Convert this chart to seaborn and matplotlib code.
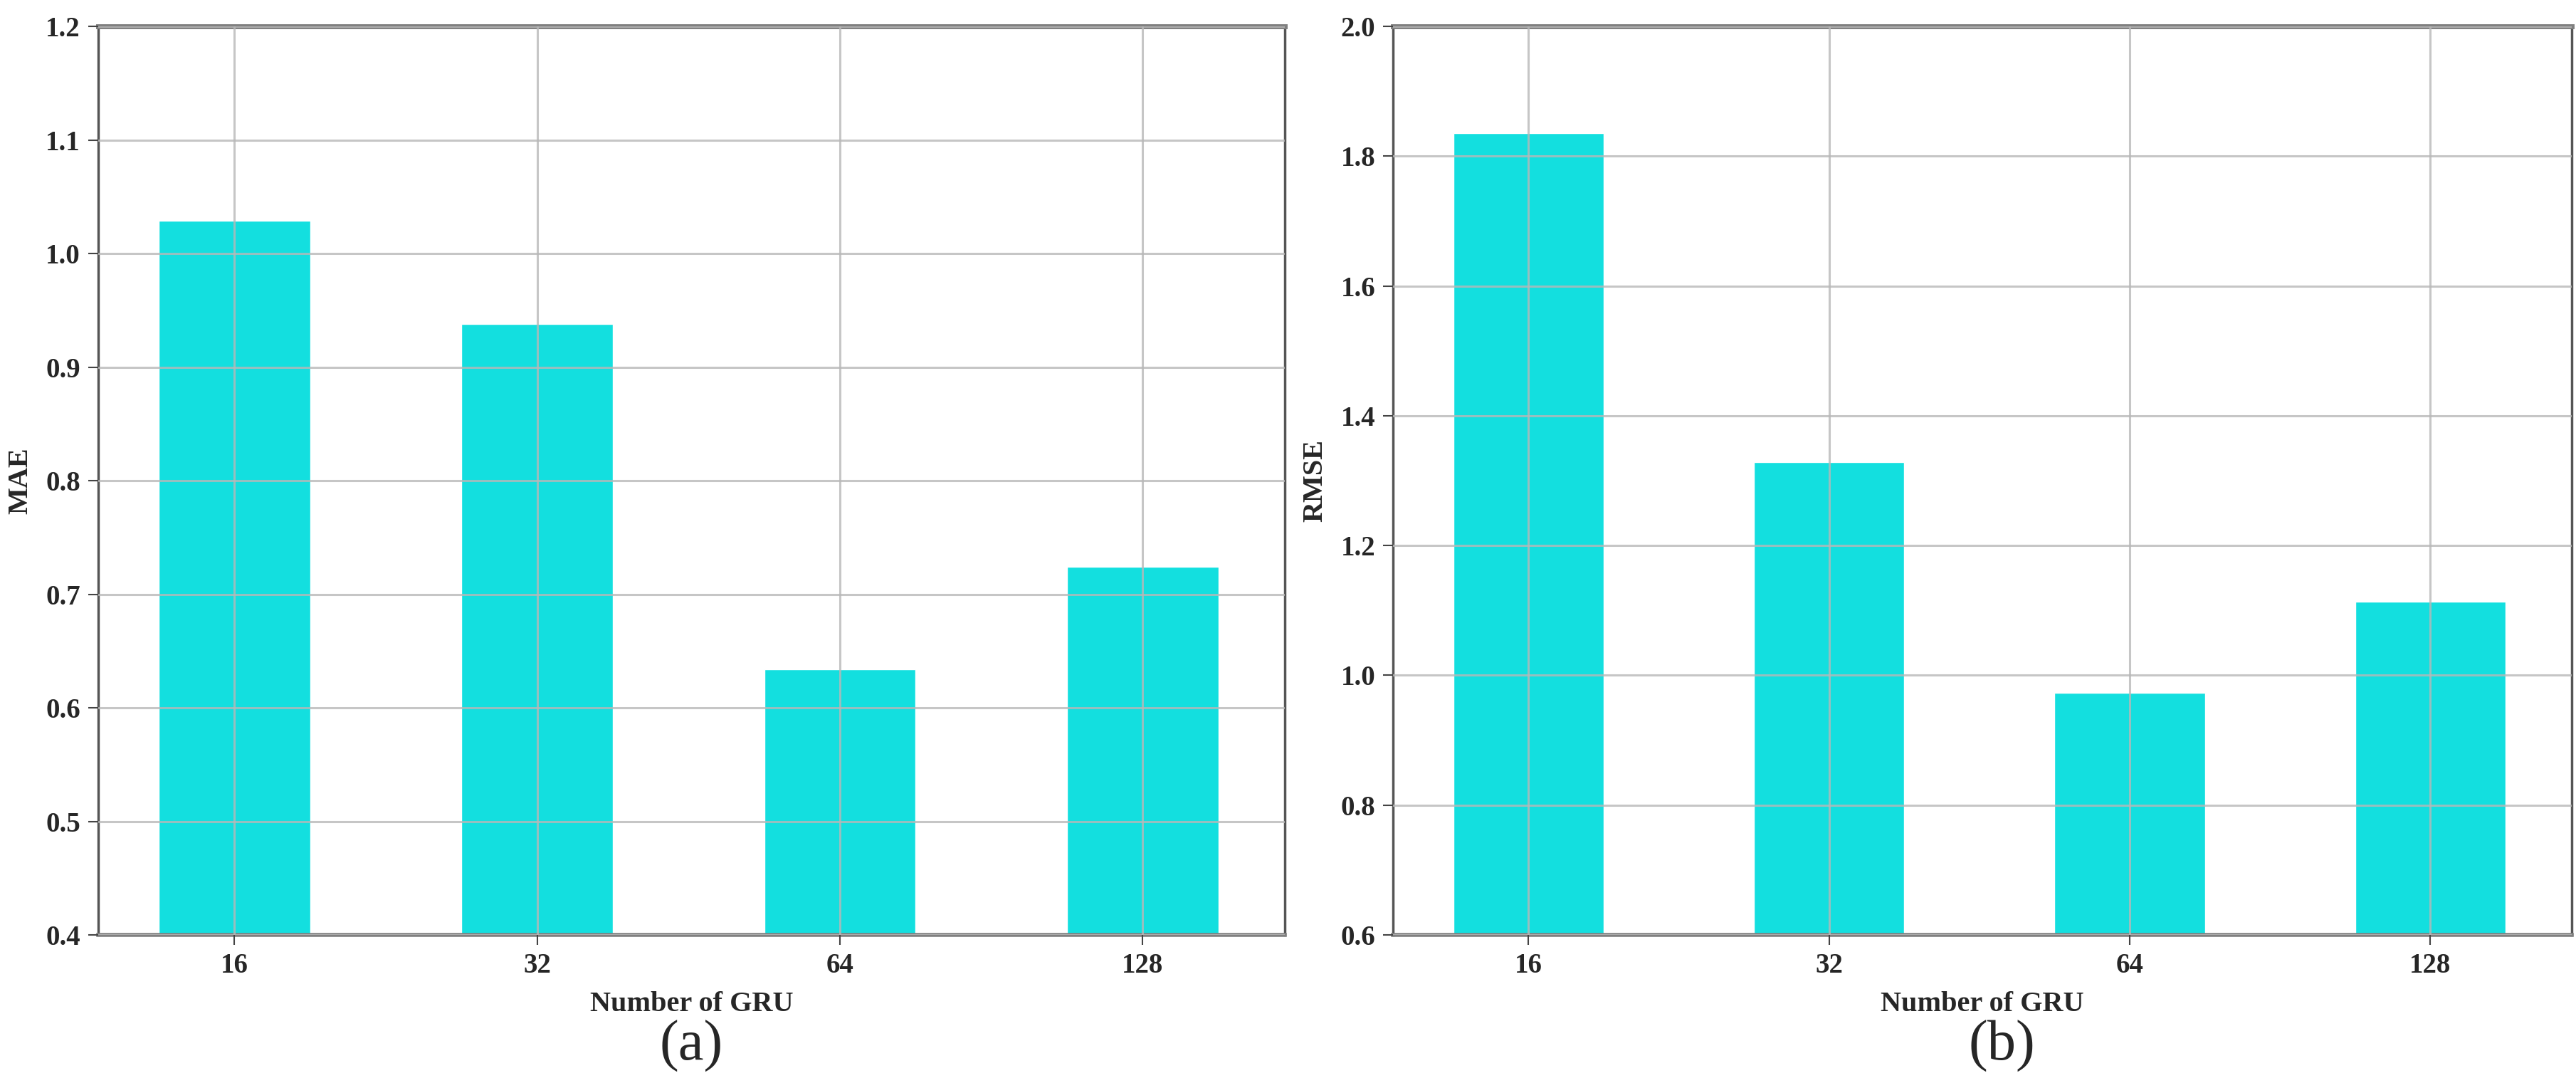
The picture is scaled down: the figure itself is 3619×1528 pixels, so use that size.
import pandas as pd
import seaborn as sns
import matplotlib.pyplot as plt

# GRU unit counts and the errors
gru_units = ['16', '32', '64', '128']
mae_values = [1.029, 0.938, 0.634, 0.724]
rmse_values = [1.836, 1.329, 0.973, 1.113]

bar_color = '#13dfdf'

sns.set_theme(style='whitegrid')
plt.rcParams['font.family'] = ['Liberation Serif', 'DejaVu Serif']

df = pd.DataFrame({'units': gru_units, 'MAE': mae_values, 'RMSE': rmse_values})

fig = plt.figure(figsize=(36.19, 15.28), dpi=100)
ax_a = fig.add_axes([0.0381, 0.1407, 0.4607, 0.835])
ax_b = fig.add_axes([0.5408, 0.1407, 0.4575, 0.835])

panels = [
    (ax_a, 'MAE', (0.4, 1.2), [0.4, 0.5, 0.6, 0.7, 0.8, 0.9, 1.0, 1.1, 1.2], '(a)', 0.0),
    (ax_b, 'RMSE', (0.6, 2.0), [0.6, 0.8, 1.0, 1.2, 1.4, 1.6, 1.8, 2.0], '(b)', 0.0077),
]

for ax, col, ylim, yticks, tag, shift in panels:
    sns.barplot(data=df, x='units', y=col, color=bar_color, saturation=1,
                width=0.5, ax=ax)
    ax.set_xlim(-0.45, 3.47)
    ax.set_ylim(*ylim)
    ax.set_yticks(yticks)
    ax.set_yticklabels([f'{t:.1f}' for t in yticks])
    ax.set_axisbelow(False)
    ax.grid(True, color='#b8b8b8', linewidth=2.2, alpha=0.8)
    for side in ['left', 'right', 'top', 'bottom']:
        ax.spines[side].set_visible(True)
        ax.spines[side].set_color('#555555')
        ax.spines[side].set_linewidth(2.5)
    ax.spines['top'].set_color('#808080')
    ax.spines['top'].set_linewidth(5)
    ax.spines['bottom'].set_color('#808080')
    ax.spines['bottom'].set_linewidth(4)
    ax.tick_params(axis='both', which='both', direction='out', length=10,
                   width=1.5, color='#444444', labelsize=28, pad=8,
                   bottom=True, left=True)
    for lbl in ax.get_xticklabels() + ax.get_yticklabels():
        lbl.set_fontweight('bold')
    ax.set_xlabel('Number of GRU', fontsize=29, fontweight='bold', labelpad=12)
    ax.set_ylabel(col, fontsize=29, fontweight='bold', labelpad=12)
    pos = ax.get_position()
    fig.text((pos.x0 + pos.x1) / 2 + shift, 0.038, tag, ha='center', va='center', fontsize=58)

plt.savefig('out.png', dpi=100, facecolor='white')
plt.close()
